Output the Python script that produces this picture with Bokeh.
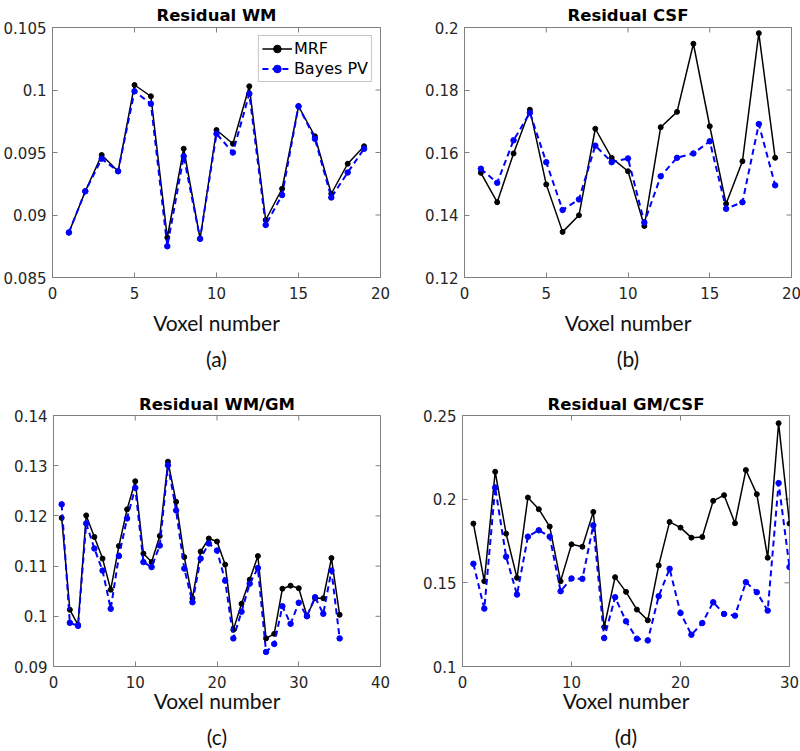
import math
from bokeh.plotting import figure
from bokeh.layouts import column, row
from bokeh.models import Range1d, FixedTicker, Title
from bokeh.embed import file_html
from bokeh.resources import INLINE

# ---------------- data ----------------
wm_voxels = list(range(1, 20))
wm_mrf = [0.0886, 0.0919, 0.0948, 0.0935, 0.1004, 0.0995, 0.0882, 0.0953, 0.0881, 0.0968,
          0.0957, 0.1003, 0.0896, 0.0921, 0.0987, 0.0963, 0.0917, 0.0941, 0.0955]
wm_bayes = [0.0886, 0.0919, 0.0945, 0.0935, 0.0999, 0.0989, 0.0875, 0.0947, 0.0881, 0.0965,
            0.0950, 0.0997, 0.0892, 0.0916, 0.0987, 0.0961, 0.0914, 0.0934, 0.0953]

csf_voxels = list(range(1, 20))
csf_mrf = [0.1535, 0.1441, 0.1597, 0.1737, 0.1498, 0.1346, 0.1399, 0.1676, 0.1583, 0.1540,
           0.1365, 0.1681, 0.1730, 0.1948, 0.1684, 0.1436, 0.1572, 0.1982, 0.1583]
csf_bayes = [0.1548, 0.1503, 0.1639, 0.1727, 0.1569, 0.1416, 0.1450, 0.1622, 0.1569, 0.1581,
             0.1376, 0.1524, 0.1583, 0.1597, 0.1636, 0.1420, 0.1441, 0.1691, 0.1495]

wmgm_voxels = list(range(1, 36))
wmgm_mrf = [0.1196, 0.1013, 0.0983, 0.1201, 0.1158, 0.1115, 0.1053, 0.1140, 0.1213, 0.1269,
            0.1125, 0.1108, 0.1160, 0.1308, 0.1228, 0.1118, 0.1036, 0.1129, 0.1155, 0.1149,
            0.1103, 0.0973, 0.1025, 0.1073, 0.1120, 0.0956, 0.0965, 0.1055, 0.1061, 0.1056,
            0.1001, 0.1036, 0.1036, 0.1116, 0.1003]
wmgm_bayes = [0.1223, 0.0987, 0.0981, 0.1185, 0.1135, 0.1091, 0.1015, 0.1120, 0.1195, 0.1256,
              0.1108, 0.1098, 0.1141, 0.1301, 0.1211, 0.1095, 0.1028, 0.1115, 0.1145, 0.1131,
              0.1071, 0.0956, 0.1009, 0.1065, 0.1096, 0.0929, 0.0945, 0.1020, 0.0985, 0.1027,
              0.1000, 0.1038, 0.1005, 0.1091, 0.0956]

gmcsf_voxels = list(range(1, 31))
gmcsf_mrf = [0.1854, 0.1510, 0.2164, 0.1794, 0.1530, 0.2010, 0.1940, 0.1836, 0.1510, 0.1730,
             0.1716, 0.1924, 0.1236, 0.1534, 0.1446, 0.1340, 0.1276, 0.1604, 0.1864, 0.1830,
             0.1770, 0.1774, 0.1990, 0.2024, 0.1856, 0.2174, 0.2030, 0.1650, 0.2454, 0.1854]
gmcsf_bayes = [0.1614, 0.1346, 0.2070, 0.1656, 0.1430, 0.1776, 0.1814, 0.1776, 0.1450, 0.1526,
               0.1524, 0.1844, 0.1170, 0.1414, 0.1270, 0.1166, 0.1156, 0.1420, 0.1584, 0.1320,
               0.1190, 0.1260, 0.1384, 0.1314, 0.1304, 0.1504, 0.1444, 0.1334, 0.2096, 0.1594]

series_names = ["MRF", "Bayes PV"]
panel_titles = ["Residual WM", "Residual CSF", "Residual WM/GM", "Residual GM/CSF"]
panel_captions = ["(a)", "(b)", "(c)", "(d)"]
x_axis_label = "Voxel number"

xticks_20 = [0, 5, 10, 15, 20]
xticks_40 = [0, 10, 20, 30, 40]
xticks_30 = [0, 10, 20, 30]

wm_yticks = [0.085, 0.09, 0.095, 0.1, 0.105]
wm_ylabels = ["0.085", "0.09", "0.095", "0.1", "0.105"]
csf_yticks = [0.12, 0.14, 0.16, 0.18, 0.2]
csf_ylabels = ["0.12", "0.14", "0.16", "0.18", "0.2"]
wmgm_yticks = [0.09, 0.1, 0.11, 0.12, 0.13, 0.14]
wmgm_ylabels = ["0.09", "0.1", "0.11", "0.12", "0.13", "0.14"]
gmcsf_yticks = [0.1, 0.15, 0.2, 0.25]
gmcsf_ylabels = ["0.1", "0.15", "0.2", "0.25"]

TICK_FONT = "DejaVu Sans"
LABEL_FONT = "Lato"
BOX = "#808080"


def style_tick_axis(ax, ticks):
    ax.ticker = FixedTicker(ticks=ticks)
    ax.axis_line_color = BOX
    ax.major_tick_line_color = BOX
    ax.major_tick_in = 5
    ax.major_tick_out = 0
    ax.minor_tick_line_color = None
    ax.major_label_text_font = TICK_FONT
    ax.major_label_text_font_size = "15px"
    ax.major_label_text_color = "#262626"


def make_panel(title, caption, x, mrf, bayes, xticks, yticks, ylabels, geom,
               title_standoff, axis_label_standoff, caption_standoff, legend=False):
    left, fw, right, top, fh, bottom = geom
    p = figure(frame_width=fw, frame_height=fh,
               min_border_left=left, min_border_right=right,
               min_border_top=top, min_border_bottom=bottom,
               x_range=Range1d(xticks[0], xticks[-1]),
               y_range=Range1d(yticks[0], yticks[-1]),
               output_backend="svg", toolbar_location=None)
    p.title.text = title
    p.title.align = "center"
    p.title.text_font = "DejaVu Sans"
    p.title.text_font_style = "bold"
    p.title.text_font_size = "16.5px"
    p.title.text_color = "#000000"
    p.title.standoff = title_standoff
    p.grid.visible = False
    p.background_fill_color = "white"
    p.border_fill_color = "white"
    p.outline_line_color = BOX
    p.outline_line_width = 1

    style_tick_axis(p.xaxis[0], xticks)
    style_tick_axis(p.yaxis[0], yticks)
    p.yaxis[0].major_label_overrides = {t: s for t, s in zip(yticks, ylabels)}
    p.yaxis[0].major_label_standoff = 6
    p.xaxis[0].major_label_standoff = 9
    p.xaxis[0].axis_label = x_axis_label
    p.xaxis[0].axis_label_text_font = LABEL_FONT
    p.xaxis[0].axis_label_text_font_style = "normal"
    p.xaxis[0].axis_label_text_font_size = "21px"
    p.xaxis[0].axis_label_text_color = "#111111"
    p.xaxis[0].axis_label_standoff = axis_label_standoff

    # inward tick marks on the top and right edges of the box (MATLAB "box on");
    # the half of each dash outside the frame is clipped away
    p.scatter(xticks, [yticks[-1]] * len(xticks), marker="dash", size=10,
              angle=math.pi / 2, line_color=BOX, line_width=1)
    p.scatter([xticks[-1]] * len(yticks), yticks, marker="dash", size=10,
              line_color=BOX, line_width=1)

    cap = Title(text=caption, align="center", text_font=LABEL_FONT,
                text_font_style="normal", text_font_size="21px",
                text_color="#111111", standoff=caption_standoff)
    p.add_layout(cap, "below")

    kw1 = dict(legend_label=series_names[0]) if legend else {}
    kw2 = dict(legend_label=series_names[1]) if legend else {}
    p.line(x, mrf, line_color="black", line_width=1.5, **kw1)
    p.scatter(x, mrf, size=5, marker="circle", fill_color="black", line_color="black", **kw1)
    p.line(x, bayes, line_color="#0000ff", line_width=2, line_dash="6 4", **kw2)
    p.scatter(x, bayes, size=5.5, marker="circle", fill_color="#0000ff", line_color="#0000ff", **kw2)

    if legend:
        lg = p.legend[0]
        lg.location = "top_right"
        lg.margin = 8
        lg.padding = 3
        lg.spacing = 1
        lg.glyph_width = 30
        lg.glyph_height = 19
        lg.label_height = 19
        lg.label_standoff = 2
        lg.label_text_font = TICK_FONT
        lg.label_text_font_size = "16px"
        lg.label_text_color = "#000000"
        lg.border_line_color = "#8c8c8c"
        lg.border_line_width = 1
        lg.background_fill_color = "white"
        lg.background_fill_alpha = 1
    return p


pa = make_panel(panel_titles[0], panel_captions[0], wm_voxels, wm_mrf, wm_bayes,
                xticks_20, wm_yticks, wm_ylabels, (50, 328, 42, 25, 250, 100),
                6, 8, 13, legend=True)
pb = make_panel(panel_titles[1], panel_captions[1], csf_voxels, csf_mrf, csf_bayes,
                xticks_20, csf_yticks, csf_ylabels, (42, 327, 11, 25, 250, 100),
                6, 8, 13)
pc = make_panel(panel_titles[2], panel_captions[2], wmgm_voxels, wmgm_mrf, wmgm_bayes,
                xticks_40, wmgm_yticks, wmgm_ylabels, (53, 327, 40, 38, 251, 87),
                3, -3, 12)
pd = make_panel(panel_titles[3], panel_captions[3], gmcsf_voxels, gmcsf_mrf, gmcsf_bayes,
                xticks_30, gmcsf_yticks, gmcsf_ylabels, (42, 327, 11, 38, 251, 87),
                3, -3, 12)

layout = column(row(pa, pb), row(pc, pd))

open("out.html", "w").write(file_html(layout, INLINE))
